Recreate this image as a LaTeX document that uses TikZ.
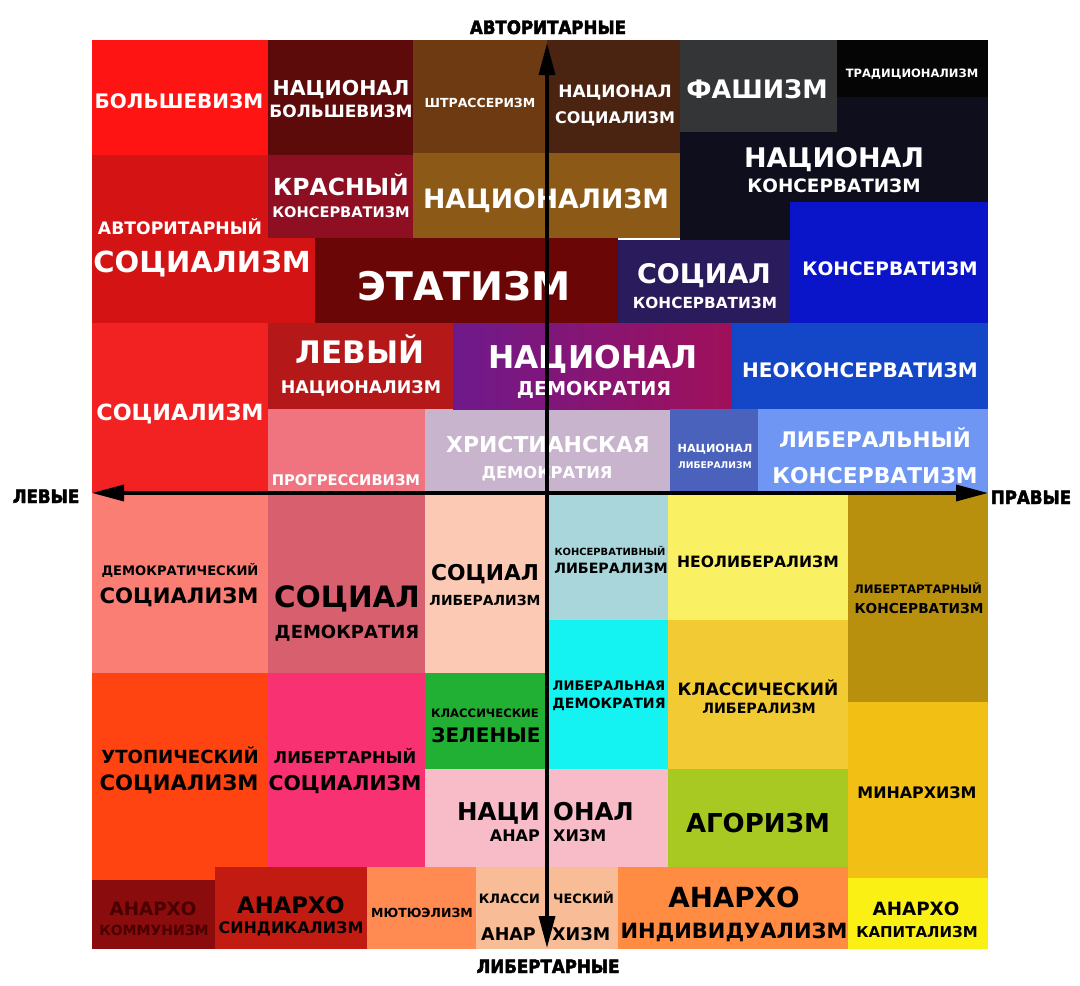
\documentclass[tikz,border=0pt]{standalone}
\usepackage{fontspec}
\setmainfont{DejaVu Sans}
\newfontfamily\axisfont{DejaVu Sans Condensed}[BoldFeatures={FakeBold=2.5}]
\usetikzlibrary{arrows.meta}

\definecolor{cBolsh}{HTML}{FF1414}
\definecolor{cNatBol}{HTML}{5C0A0A}
\definecolor{cStrass}{HTML}{6E3A12}
\definecolor{cNatSoc}{HTML}{4A2410}
\definecolor{cFasc}{HTML}{333537}
\definecolor{cTrad}{HTML}{050505}
\definecolor{cNatCons}{HTML}{0E0E1C}
\definecolor{cKras}{HTML}{8E0E22}
\definecolor{cNatism}{HTML}{8C5A16}
\definecolor{cAvtSoc}{HTML}{D41414}
\definecolor{cEtat}{HTML}{6A0606}
\definecolor{cSocCons}{HTML}{2A1C5C}
\definecolor{cCons}{HTML}{0A14C8}
\definecolor{cSoc}{HTML}{F22222}
\definecolor{cLevNat}{HTML}{B41818}
\definecolor{cNatDemL}{HTML}{6E1A8C}
\definecolor{cNatDemR}{HTML}{A0105A}
\definecolor{cNeoCons}{HTML}{1446C8}
\definecolor{cProg}{HTML}{F07480}
\definecolor{cChrist}{HTML}{C8B4CC}
\definecolor{cNatLib}{HTML}{4A62BC}
\definecolor{cLibCons}{HTML}{6E96F2}
\definecolor{cDemSoc}{HTML}{FA7E74}
\definecolor{cSocDem}{HTML}{D8606E}
\definecolor{cSocLib}{HTML}{FCCAB4}
\definecolor{cConsLib}{HTML}{A8D6DA}
\definecolor{cNeoLib}{HTML}{FAF064}
\definecolor{cLibtCons}{HTML}{B8900E}
\definecolor{cLibDem}{HTML}{14F2F2}
\definecolor{cClassLib}{HTML}{F2CA34}
\definecolor{cMinarch}{HTML}{F2C014}
\definecolor{cUtop}{HTML}{FF4412}
\definecolor{cLibSoc}{HTML}{F83272}
\definecolor{cGreen}{HTML}{22B034}
\definecolor{cNatAn}{HTML}{F8BCC8}
\definecolor{cAgor}{HTML}{A8C822}
\definecolor{cAcom}{HTML}{8A0C0C}
\definecolor{cAcomText}{HTML}{4A0000}
\definecolor{cAsyn}{HTML}{C21C12}
\definecolor{cMutual}{HTML}{FF8A52}
\definecolor{cClassAn}{HTML}{F8BC96}
\definecolor{cAind}{HTML}{FF8C42}
\definecolor{cAcap}{HTML}{FAF014}

\newcommand{\fsz}[1]{\fontsize{#1}{#1}\selectfont}

\begin{document}
\begin{tikzpicture}[x=1pt,y=-1pt,
  wt/.style={text=white,inner sep=0pt,anchor=base,font=\bfseries\fsz{#1}},
  bk/.style={text=black,inner sep=0pt,anchor=base,font=\bfseries\fsz{#1}},
  axlabel/.style={text=black,inner sep=0pt,anchor=base,font=\axisfont\bfseries\fsz{18.5}},
  axis/.style={line width=3.5pt,{Triangle[length=32pt,width=16pt]}-{Triangle[length=32pt,width=16pt]}}
]
\useasboundingbox (0,0) rectangle (1080,986);
\fill[white] (0,0) rectangle (1080,986);

% authoritarian left
\fill[cBolsh] (92,40) rectangle (268,155);
\fill[cNatBol] (268,40) rectangle (413,155);
\fill[cStrass] (413,40) rectangle (547,153);
\fill[cAvtSoc] (92,155) rectangle (315,323);
\fill[cKras] (268,155) rectangle (413,238);
\fill[cNatism] (413,153) rectangle (680,238);
\fill[cEtat] (315,238) rectangle (618,323);
\fill[cSoc] (92,323) rectangle (268,493);
\fill[cLevNat] (268,323) rectangle (453,409);
\fill[cProg] (268,409) rectangle (425,493);
\fill[cChrist] (425,409) rectangle (670,493);
\shade[left color=cNatDemL,right color=cNatDemR] (453,323) rectangle (732,409);

% authoritarian right
\fill[cNatSoc] (547,40) rectangle (680,153);
\fill[cNatCons] (680,97) rectangle (988,240);
\fill[cFasc] (680,40) rectangle (837,132);
\fill[cTrad] (837,40) rectangle (988,97);
\fill[cCons] (790,202) rectangle (988,323);
\fill[cSocCons] (618,240) rectangle (790,323);
\fill[cNeoCons] (732,323) rectangle (988,409);
\fill[cNatLib] (670,409) rectangle (758,493);
\fill[cLibCons] (758,409) rectangle (988,493);

% libertarian left
\fill[cDemSoc] (92,493) rectangle (268,673);
\fill[cSocDem] (268,493) rectangle (425,673);
\fill[cSocLib] (425,493) rectangle (547,673);
\fill[cUtop] (92,673) rectangle (268,880);
\fill[cLibSoc] (268,673) rectangle (425,867);
\fill[cGreen] (425,673) rectangle (547,769);
\fill[cNatAn] (425,769) rectangle (668,867);
\fill[cAcom] (92,880) rectangle (215,949);
\fill[cAsyn] (215,867) rectangle (367,949);
\fill[cMutual] (367,867) rectangle (476,949);
\fill[cClassAn] (476,867) rectangle (618,949);

% libertarian right
\fill[cConsLib] (547,493) rectangle (668,620);
\fill[cNeoLib] (668,493) rectangle (848,620);
\fill[cLibtCons] (848,493) rectangle (988,702);
\fill[cLibDem] (547,620) rectangle (668,769);
\fill[cClassLib] (668,620) rectangle (848,769);
\fill[cMinarch] (848,702) rectangle (988,878);
\fill[cAgor] (668,769) rectangle (848,867);
\fill[cAind] (618,867) rectangle (848,949);
\fill[cAcap] (848,878) rectangle (988,949);

% labels, upper half
\node[wt=20] (bolsh) at (179,108) {БОЛЬШЕВИЗМ};
\node[wt=20.5] (natbolA) at (341,95) {НАЦИОНАЛ};
\node[wt=17] (natbolB) at (341,117) {БОЛЬШЕВИЗМ};
\node[wt=12.5] (strass) at (480,107) {ШТРАССЕРИЗМ};
\node[wt=17] (natsocA) at (615,97) {НАЦИОНАЛ};
\node[wt=16] (natsocB) at (615,123) {СОЦИАЛИЗМ};
\node[wt=25.5] (fasc) at (757,98) {ФАШИЗМ};
\node[wt=11.5] (trad) at (912,77) {ТРАДИЦИОНАЛИЗМ};
\node[wt=27] (natconsA) at (834,167) {НАЦИОНАЛ};
\node[wt=18.4] (natconsB) at (834,192) {КОНСЕРВАТИЗМ};
\node[wt=23.5] (krasA) at (341,195) {КРАСНЫЙ};
\node[wt=14.6] (krasB) at (341,217) {КОНСЕРВАТИЗМ};
\node[wt=26.7] (natism) at (546,208) {НАЦИОНАЛИЗМ};
\node[wt=17.2] (avtsocA) at (180,234) {АВТОРИТАРНЫЙ};
\node[wt=29] (avtsocB) at (202,272) {СОЦИАЛИЗМ};
\node[wt=39.4] (etat) at (464,300) {ЭТАТИЗМ};
\node[wt=27] (socconsA) at (704,283) {СОЦИАЛ};
\node[wt=15.3] (socconsB) at (705,308) {КОНСЕРВАТИЗМ};
\node[wt=18.6] (cons) at (890,275) {КОНСЕРВАТИЗМ};
\node[wt=31] (levnatA) at (360,363) {ЛЕВЫЙ};
\node[wt=17.4] (levnatB) at (361,393) {НАЦИОНАЛИЗМ};
\node[wt=22.3] (soc) at (180,420) {СОЦИАЛИЗМ};
\node[wt=31.4] (natdemA) at (593,368) {НАЦИОНАЛ};
\node[wt=19.2] (natdemB) at (594,395) {ДЕМОКРАТИЯ};
\node[wt=20] (neocons) at (860,377) {НЕОКОНСЕРВАТИЗМ};
\node[wt=14.7] (prog) at (346,485) {ПРОГРЕССИВИЗМ};
\node[wt=21.9] (christA) at (548,452) {ХРИСТИАНСКАЯ};
\node[wt=16.3] (christB) at (547,478) {ДЕМОКРАТИЯ};
\node[wt=11.2] (natlibA) at (715,452) {НАЦИОНАЛ};
\node[wt=9.2] (natlibB) at (715,468) {ЛИБЕРАЛИЗМ};
\node[wt=21.5] (libconsA) at (875,447) {ЛИБЕРАЛЬНЫЙ};
\node[wt=21.8] (libconsB) at (875,483) {КОНСЕРВАТИЗМ};

% labels, lower half
\node[bk=13.1] (demsocA) at (180,575) {ДЕМОКРАТИЧЕСКИЙ};
\node[bk=21.2] (demsocB) at (179,603) {СОЦИАЛИЗМ};
\node[bk=29.4] (socdemA) at (347,607) {СОЦИАЛ};
\node[bk=18] (socdemB) at (347,638) {ДЕМОКРАТИЯ};
\node[bk=21.8] (soclibA) at (485,580) {СОЦИАЛ};
\node[bk=13.9] (soclibB) at (485,605) {ЛИБЕРАЛИЗМ};
\node[bk=9.9] (conslibA) at (610,555) {КОНСЕРВАТИВНЫЙ};
\node[bk=14.2] (conslibB) at (611,573) {ЛИБЕРАЛИЗМ};
\node[bk=15.6] (neolib) at (758,567) {НЕОЛИБЕРАЛИЗМ};
\node[bk=11.7] (libtconsA) at (918,593) {ЛИБЕРТАРТАРНЫЙ};
\node[bk=13.7] (libtconsB) at (919,613) {КОНСЕРВАТИЗМ};
\node[bk=13.1] (libdemA) at (609,690) {ЛИБЕРАЛЬНАЯ};
\node[bk=14.1] (libdemB) at (609,708) {ДЕМОКРАТИЯ};
\node[bk=17] (classlibA) at (758,695) {КЛАССИЧЕСКИЙ};
\node[bk=14.2] (classlibB) at (759,713) {ЛИБЕРАЛИЗМ};
\node[bk=15.9] (minarch) at (917,798) {МИНАРХИЗМ};
\node[bk=26] (agor) at (758,832) {АГОРИЗМ};
\node[bk=18.1] (utopA) at (180,763) {УТОПИЧЕСКИЙ};
\node[bk=21.2] (utopB) at (179,790) {СОЦИАЛИЗМ};
\node[bk=16.3] (libsocA) at (345,763) {ЛИБЕРТАРНЫЙ};
\node[bk=20.4] (libsocB) at (345,790) {СОЦИАЛИЗМ};
\node[bk=11.6] (greenA) at (485,717) {КЛАССИЧЕСКИЕ};
\node[bk=20] (greenB) at (486,742) {ЗЕЛЕНЫЕ};
\node[bk=24.5,anchor=base east] (natanA) at (540,820) {НАЦИ};
\node[bk=24.5,anchor=base west] (natanB) at (553,820) {ОНАЛ};
\node[bk=16,anchor=base east] (natanC) at (540,841) {АНАР};
\node[bk=16,anchor=base west] (natanD) at (553,841) {ХИЗМ};
\node[bk=12.9,anchor=base east] (classanA) at (540,903) {КЛАССИ};
\node[bk=12.9,anchor=base west] (classanB) at (553,903) {ЧЕСКИЙ};
\node[bk=17.5,anchor=base east] (classanC) at (536,940) {АНАР};
\node[bk=17.5,anchor=base west] (classanD) at (552,940) {ХИЗМ};
\node[bk=18.3,text=cAcomText] (acomA) at (153,915) {АНАРХО};
\node[bk=14,text=cAcomText] (acomB) at (154,935) {КОММУНИЗМ};
\node[bk=22.7] (asynA) at (291,913) {АНАРХО};
\node[bk=15.9] (asynB) at (291,933) {СИНДИКАЛИЗМ};
\node[bk=12.5] (mutual) at (422,917) {МЮТЮЭЛИЗМ};
\node[bk=27.7] (aindA) at (734,907) {АНАРХО};
\node[bk=21] (aindB) at (734,938) {ИНДИВИДУАЛИЗМ};
\node[bk=18.3] (acapA) at (916,915) {АНАРХО};
\node[bk=15] (acapB) at (917,937) {КАПИТАЛИЗМ};

% axes
\coordinate (top) at (547,43);
\coordinate (bot) at (547,948);
\coordinate (lft) at (92,493);
\coordinate (rgt) at (988,493);
\draw[axis] (bot) -- (top);
\draw[axis] (lft) -- (rgt);
\node[axlabel] (auth) at (548,34) {АВТОРИТАРНЫЕ};
\node[axlabel] (libt) at (548,973) {ЛИБЕРТАРНЫЕ};
\node[axlabel] (left) at (46,503) {ЛЕВЫЕ};
\node[axlabel] (right) at (1031,504) {ПРАВЫЕ};
\end{tikzpicture}
\end{document}
